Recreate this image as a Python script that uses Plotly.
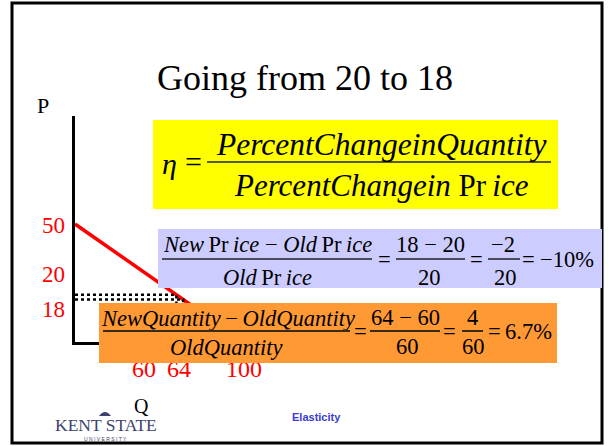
import plotly.graph_objects as go

# ---------------- data ----------------
demand_q = [0, 100]          # quantity at the ends of the demand line
demand_p = [50, 0]           # price at the ends of the demand line
old_point = (60, 20)         # (Q, P) before the change
new_point = (64, 18)         # (Q, P) after the change
price_ticks = [50, 20, 18]
qty_ticks = [60, 64, 100]

W, H = 609, 446
SERIF = "Liberation Serif"
SANS = "Liberation Sans"


def PX(x):
    return x / W


def PY(y):
    return 1 - y / H


fig = go.Figure()

# demand curve
fig.add_trace(go.Scatter(x=demand_q, y=demand_p, mode="lines",
                         line=dict(color="#ff0000", width=3.5),
                         hoverinfo="skip", showlegend=False))
# dotted guide lines for both points
for q, p in (old_point, new_point):
    fig.add_trace(go.Scatter(x=[0, q, q], y=[p, p, 0], mode="lines",
                             line=dict(color="black", width=2.5, dash="dot"),
                             hoverinfo="skip", showlegend=False))

# axis geometry (pixel placement of the small diagram)
x_left, x_right = 75, 244
y_bottom, y_top = 342, 116
p_per_px = 50 / (y_bottom - 224)
y_max = (y_bottom - y_top) * p_per_px

fig.update_xaxes(domain=[PX(x_left), PX(x_right)], range=[0, 100],
                 showline=True, linecolor="black", linewidth=3,
                 showgrid=False, zeroline=False, showticklabels=False, ticks="")
fig.update_yaxes(domain=[PY(y_bottom), PY(y_top)], range=[0, y_max],
                 showline=True, linecolor="black", linewidth=3,
                 showgrid=False, zeroline=False, showticklabels=False, ticks="")

shapes = []
annotations = []

# slide frame
shapes.append(dict(type="rect", xref="paper", yref="paper",
                   x0=PX(12), x1=PX(602), y0=PY(3), y1=PY(443),
                   line=dict(color="black", width=3), layer="above"))

# yellow and blue formula boxes (+ orange underlay)
for (x0, y0, x1, y1, col) in [(153, 120, 558, 209, "#ffff00"),
                              (158, 229, 602, 288, "#ccccff"),
                              (99, 303, 557, 363, "#ff9933")]:
    shapes.append(dict(type="rect", xref="paper", yref="paper",
                       x0=PX(x0), x1=PX(x1), y0=PY(y0), y1=PY(y1),
                       fillcolor=col, line=dict(width=0), layer="above"))

# fraction bars in the yellow and blue boxes
for (x0, x1, y) in [(207, 551, 162),
                    (162, 372, 259), (396, 465, 259), (488, 520, 259)]:
    shapes.append(dict(type="line", xref="paper", yref="paper",
                       x0=PX(x0), x1=PX(x1), y0=PY(y), y1=PY(y),
                       line=dict(color="#222222", width=1.5), layer="above"))

# small crest of the logo
shapes.append(dict(type="path", xref="paper", yref="paper",
                   path=f"M {PX(99)},{PY(416)} Q {PX(105)},{PY(408)} {PX(111)},{PY(416)} Z",
                   fillcolor="#3d4270", line=dict(width=0), layer="above"))


def txt(cx, cy, text, size, color="black", family=SERIF, xanchor="center"):
    annotations.append(dict(x=PX(cx), y=PY(cy), xref="paper", yref="paper",
                            text=text, showarrow=False, xanchor=xanchor,
                            yanchor="middle",
                            font=dict(family=family, size=size, color=color)))


# quantity tick labels first, so the orange box can sit over their tops
qty_nudge = [-32, -4, 0]
for v, dx in zip(qty_ticks, qty_nudge):
    annotations.append(dict(x=v, y=PY(369), xref="x", yref="paper",
                            text=str(v), showarrow=False, xanchor="center",
                            yanchor="middle", xshift=dx,
                            font=dict(family=SERIF, size=24, color="#ff0000")))
# orange box drawn as a filled annotation on top of those labels
annotations.append(dict(x=PX(99), y=PY(303), xref="paper", yref="paper",
                        text=" ", showarrow=False, xanchor="left", yanchor="top",
                        width=458, height=60, bgcolor="#ff9933",
                        borderpad=0, borderwidth=0))

# title and axis names
txt(304.5, 77.5, "Going from 20 to 18", 36)
txt(43, 105, "P", 22)
txt(141, 406, "Q", 20)

# yellow box formula
txt(169, 163, "<i>η</i>", 30)
txt(193, 162, "=", 30)
txt(381, 144, "<i>PercentChangeinQuantity</i>", 31.5)
txt(381, 185, "<i>PercentChangein</i> Pr\u2009<i>ice</i>", 31)

# blue box: percent change in price
FS = 22.5
txt(267.5, 244, "<i>New</i>\u2009Pr\u2009<i>ice</i> − <i>Old</i>\u2009Pr\u2009<i>ice</i>", FS)
txt(267, 277, "<i>Old</i>\u2009Pr\u2009<i>ice</i>", FS)
txt(384, 259, "=", FS)
txt(430.5, 244, f"{new_point[1]} − {old_point[1]}", FS)
txt(429, 277, f"{old_point[1]}", FS)
txt(476, 259, "=", FS)
txt(503, 244, f"−{old_point[1] - new_point[1]}", FS)
txt(505, 277, f"{old_point[1]}", FS)
txt(528, 259, "=", FS)
pct_p = (new_point[1] - old_point[1]) / old_point[1] * 100
txt(567, 259, f"−{abs(pct_p):.0f}%", FS)

# orange box: percent change in quantity
txt(227.5, 318, "<i>NewQuantity</i>\u2009−\u2009<i>OldQuantity</i>", FS)
txt(226.5, 347, "<i>OldQuantity</i>", FS)
txt(360, 331, "=", FS)
txt(405, 317, f"{new_point[0]} − {old_point[0]}", FS)
txt(407, 346, f"{old_point[0]}", FS)
txt(449, 331, "=", FS)
txt(472.5, 317, f"{new_point[0] - old_point[0]}", FS)
txt(473, 346, f"{old_point[0]}", FS)
txt(494, 331, "=", FS)
pct_q = (new_point[0] - old_point[0]) / old_point[0] * 100
txt(528, 331, f"{pct_q:.1f}%", FS)

# fraction bars inside the orange box (above the box annotation)
for (x0, x1, y) in [(103, 350, 331), (370, 440, 331), (462, 483, 331)]:
    annotations.append(dict(x=PX(x0), y=PY(y), xref="paper", yref="paper",
                            text=" ", showarrow=False, xanchor="left",
                            yanchor="middle", width=x1 - x0, height=1.5,
                            bgcolor="#3a2a1a", borderpad=0, borderwidth=0))

# price tick labels (anchored at their values, nudged apart like the slide)
price_nudge = [-1.5, 20, -10]
for v, dy in zip(price_ticks, price_nudge):
    annotations.append(dict(x=PX(67), y=v, xref="paper", yref="y",
                            text=str(v), showarrow=False, xanchor="right",
                            yanchor="middle", yshift=dy,
                            font=dict(family=SERIF, size=23, color="#ff0000")))

# footer: logo text and slide label
txt(105.5, 425, "KENT STATE", 17.5, color="#3d4270")
txt(105.5, 438.5, "U N I V E R S I T Y", 5, color="#3d4270", family=SANS)
txt(316.5, 417, "<b>Elasticity</b>", 11, color="#3b3bd1", family=SANS)

fig.update_layout(width=W, height=H, margin=dict(l=0, r=0, t=0, b=0),
                  paper_bgcolor="white", plot_bgcolor="white",
                  font=dict(family=SERIF),
                  shapes=shapes, annotations=annotations, showlegend=False)

fig.write_html("out.html", config={"displayModeBar": False},
               post_script="document.body.style.margin='0px';"
                           "document.body.style.overflow='hidden';")
